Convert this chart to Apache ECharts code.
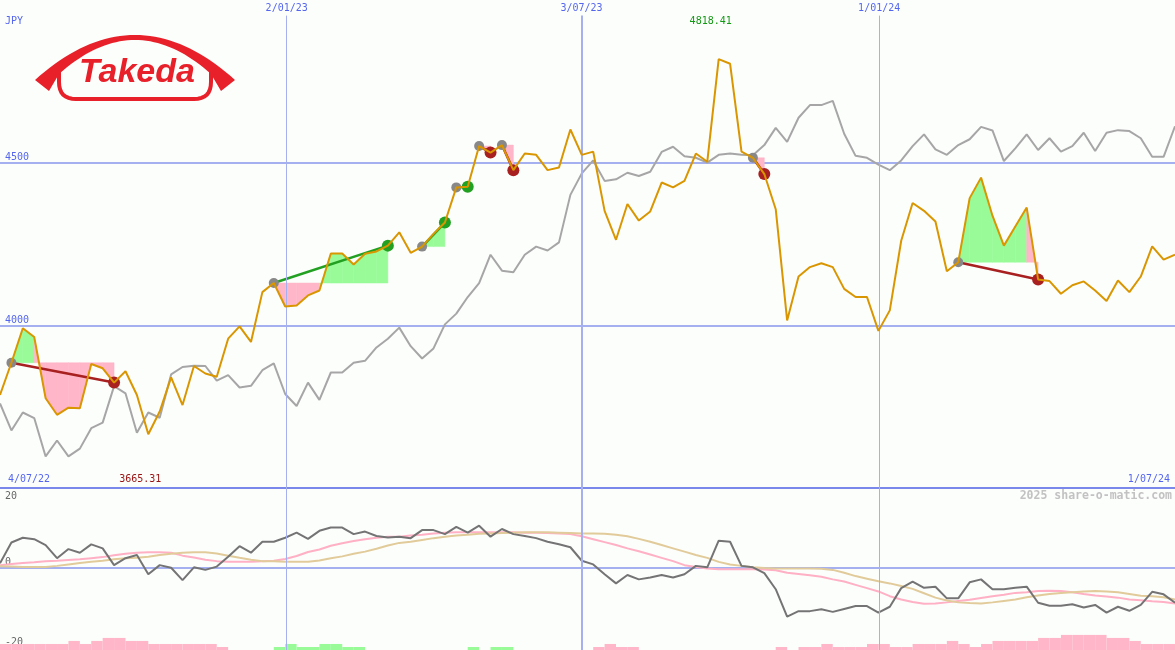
<!DOCTYPE html>
<html><head><meta charset="utf-8">
<script src="https://cdn.jsdelivr.net/npm/echarts@6/dist/echarts.min.js"></script>
<style>html,body{margin:0;padding:0;background:#fcfefc}#c{width:1175px;height:650px}</style>
</head><body><div id="c"></div>
<script>
// ---- data (weekly points, index 0 = 4/07/22, last = 1/07/24) ----
const price = [3786,3885,3991,3964,3776,3725,3747,3745,3881,3868,
 3824,3859,3786,3665.31,3735,3840,3755,3875,3852,3842,
 3959,3997,3949,4102,4130,4058,4061,4092,4107,4221,
 4221,4187,4220,4227,4245,4286,4223,4242,4281,4316,
 4424,4426,4551,4531,4554,4477,4528,4524,4477,4485,
 4602,4524,4534,4352,4263,4373,4322,4350,4439,4424,
 4444,4528,4503,4818.41,4804,4534,4515,4465,4357,4015,
 4150,4179,4191,4179,4112,4087,4087,3983,4046,4260,
 4376,4352,4319,4166,4194,4391,4454,4337,4245,4304,
 4362,4141,4136,4097,4123,4135,4107,4075,4138,4102,
 4150,4243,4202,4217];
const compare = [3760,3677,3732,3715,3597,3646,3597,3621,3684,3701,
 3813,3791,3670,3732,3716,3849,3872,3876,3875,3830,
 3847,3809,3814,3862,3883,3789,3752,3824,3771,3855,
 3855,3885,3891,3932,3959,3993,3936,3898,3929,4003,
 4036,4087,4130,4217,4168,4163,4217,4242,4230,4255,
 4401,4467,4507,4444,4449,4469,4459,4472,4533,4549,
 4520,4515,4500,4524,4528,4524,4523,4554,4607,4564,
 4638,4677,4677,4690,4589,4521,4515,4494,4477,4507,
 4551,4587,4541,4524,4554,4572,4610,4599,4505,4544,
 4587,4539,4575,4534,4551,4592,4536,4592,4600,4597,
 4575,4518,4518,4612];
const osc = [1.2,6.9,8.2,7.8,6.2,2.6,5.1,4.1,6.4,5.3,
 0.7,2.6,3.5,-1.8,0.7,0,-3.4,0.1,-0.6,0.3,
 3.0,5.9,4.1,7.1,7.1,8.2,9.6,7.9,10.1,11.0,
 11.0,9.2,9.9,8.7,8.3,8.5,8.1,10.3,10.3,9.2,
 11.2,9.6,11.5,8.5,10.6,9.2,8.7,8.1,7.1,6.4,
 5.6,1.9,0.9,-1.8,-4.3,-2.0,-3.2,-2.7,-2.0,-2.7,
 -1.8,0.5,0.1,7.4,7.1,0.5,0.1,-1.5,-5.9,-13.4,
 -11.9,-11.9,-11.4,-12.1,-11.3,-10.5,-10.5,-12.3,-10.7,-5.6,
 -3.8,-5.5,-5.2,-8.4,-8.4,-4.0,-3.2,-5.9,-5.9,-5.5,
 -5.2,-9.6,-10.4,-10.4,-10.0,-10.9,-10.2,-12.3,-10.7,-11.8,
 -10.2,-6.6,-7.3,-9.6];
const maFast = [0.7,1.0,1.3,1.5,1.8,1.9,2.1,2.3,2.6,2.9,
 3.4,3.8,4.1,4.2,4.2,4.1,3.3,2.8,2.2,1.8,
 1.6,1.6,1.6,1.8,1.9,2.4,3.2,4.3,5.0,6.0,
 6.7,7.3,7.8,8.2,8.5,8.5,8.8,9.0,9.4,9.6,
 9.7,9.7,9.7,9.7,9.7,9.7,9.6,9.6,9.5,9.4,
 9.2,8.6,7.8,7.0,6.2,5.3,4.5,3.6,2.7,1.8,
 0.7,0.2,-0.2,-0.4,-0.4,-0.4,-0.4,-0.5,-0.7,-1.4,
 -1.7,-2.1,-2.5,-3.2,-3.8,-4.7,-5.6,-6.5,-7.8,-8.7,
 -9.4,-9.9,-9.8,-9.5,-9.1,-8.8,-8.3,-7.8,-7.4,-6.9,
 -6.7,-6.4,-6.3,-6.4,-6.7,-7.2,-7.6,-7.9,-8.2,-8.7,
 -8.9,-9.2,-9.4,-9.8];
const maSlow = [0.4,0.3,0.2,0.2,0.2,0.5,0.9,1.3,1.6,1.9,
 2.3,2.6,2.7,3.0,3.5,3.8,4.1,4.2,4.2,3.9,
 3.3,2.7,2.2,1.8,1.8,1.6,1.6,1.6,2.0,2.6,
 3.1,3.8,4.4,5.2,6.1,6.8,7.1,7.6,8.1,8.5,
 8.8,9.0,9.3,9.4,9.5,9.6,9.7,9.7,9.7,9.6,
 9.5,9.4,9.4,9.3,9.0,8.6,7.9,7.1,6.2,5.3,
 4.4,3.5,2.7,1.6,0.9,0.5,0.1,-0.1,-0.2,-0.2,
 -0.2,-0.2,-0.3,-0.6,-1.4,-2.3,-3.0,-3.7,-4.3,-5.0,
 -5.8,-7.0,-8.2,-9.0,-9.5,-9.7,-9.8,-9.5,-9.1,-8.7,
 -8.1,-7.6,-7.2,-6.9,-6.7,-6.5,-6.4,-6.5,-6.7,-7.2,
 -7.7,-7.8,-8.1,-8.7];
const hist = [-2,-2,-2,-2,-2,-2,-3,-2,-3,-4,
 -4,-3,-3,-2,-2,-2,-2,-2,-2,-1,
 0,0,0,0,1,2,1,1,2,2,
 1,1,0,0,0,0,0,0,0,0,
 0,1,0,1,1,0,0,0,0,0,
 0,0,-1,-2,-1,-1,0,0,0,0,
 0,0,0,0,0,0,0,0,-1,0,
 -1,-1,-2,-1,-1,-1,-2,-2,-1,-1,
 -2,-2,-2,-3,-2,-1,-2,-3,-3,-3,
 -3,-4,-4,-5,-5,-5,-5,-4,-4,-3,
 -2,-2,-2,-2];
const signals = [[1,10],[24,34],[37,39],[40,41],[42,43],[44,45],[66,67],[84,91]];
const dateLines = [['2/01/23',25.13],['3/07/23',50.98],['1/01/24',77.07]];
const startDate = '4/07/22', endDate = '1/07/24', currency = 'JPY';
const priceTicks = [4000,4500];
const oscTicks = [-20,0,20];

// ---- styles ----
const MONO = '"DejaVu Sans Mono", monospace';
const BLUE_TXT = '#5566ee', GRIDC = '#a4b0f0', SEP = '#7a88ec';
const FILL_UP = '#98fb98', FILL_DN = '#ffb6c8';
const GREEN = '#22a022', RED = '#a82020', LOGO = '#e8202a';
const dateLineWidths = [1, 2, 1];
const N = price.length;
const idx = a => a.map((v,i)=>[i,v]);

const chart = echarts.init(document.getElementById('c'));

function fillItem(params, api){
  const s = signals[params.dataIndex][0], e = signals[params.dataIndex][1];
  const level = price[s];
  const children = [];
  for (let i=s;i<e;i++){
    const up = price[i+1] >= level;
    const pts = [api.coord([i,price[i]]), api.coord([i+1,price[i+1]]), api.coord([i+1,level]), api.coord([i,level])];
    const c = up ? FILL_UP : FILL_DN;
    children.push({type:'polygon', shape:{points:pts}, style:{fill:c, stroke:c, lineWidth:0.5}});
  }
  return {type:'group', children};
}
function sigLineItem(params, api){
  const s = signals[params.dataIndex][0], e = signals[params.dataIndex][1];
  const p0 = api.coord([s,price[s]]), p1 = api.coord([e,price[e]]);
  return {type:'line', shape:{x1:p0[0],y1:p0[1],x2:p1[0],y2:p1[1]},
    style:{stroke: price[e]>price[s]?GREEN:RED, lineWidth:2.5}};
}
function histItem(params, api){
  const i = api.value(0), h = api.value(2);
  if (!h) return null;
  const p0 = api.coord([i,0]), p1 = api.coord([i+1,Math.abs(h)]);
  return {type:'rect', shape:{x:p0[0], y:p1[1], width:p1[0]-p0[0], height:p0[1]-p1[1]},
    style:{fill: h>0?FILL_UP:FILL_DN}};
}

const labelRich = {
  z:{color:'#666', fontFamily:MONO, fontSize:10, padding:[0,0,11,0]},
  n:{color:'#666', fontFamily:MONO, fontSize:10, padding:[3,0,0,0]}
};

const option = {
  backgroundColor:'#fcfefc',
  animation:false,
  grid:[
    {left:0,right:0,top:-2,height:490},
    {left:0,right:0,top:494.7,height:146},
    {left:0,right:0,top:487,height:163}
  ],
  xAxis:[0,1,2].map(g=>({type:'value',gridIndex:g,min:0,max:N-1,show:false})),
  yAxis:[
    {type:'value',gridIndex:0,min:3500,max:5000,interval:500,
     axisLine:{show:false},axisTick:{show:false},
     axisLabel:{inside:true,margin:5,verticalAlign:'bottom',color:BLUE_TXT,fontFamily:MONO,fontSize:10,
       formatter:v=>priceTicks.includes(v)?String(v):''},
     splitLine:{show:true,lineStyle:{width:2,color:[SEP,GRIDC,GRIDC,'rgba(0,0,0,0)']}}},
    {type:'value',gridIndex:1,min:-20,max:20,interval:20,
     axisLine:{show:false},axisTick:{show:false},
     axisLabel:{inside:true,margin:5,verticalAlign:'middle',
       formatter:v=>oscTicks.includes(v)?(v===0?'{z|0}':'{n|'+v+'}'):'', rich:labelRich},
     splitLine:{show:true,lineStyle:{width:2,color:['rgba(0,0,0,0)',GRIDC,'rgba(0,0,0,0)']}}},
    {type:'value',gridIndex:2,min:0,max:54,show:false}
  ],
  series:[
    {type:'custom',name:'fills',xAxisIndex:0,yAxisIndex:0,z:1,silent:true,
     data:signals.map(([s,e])=>[s,price[s],e]),encode:{x:0,y:1},renderItem:fillItem},
    {type:'line',name:'compare',xAxisIndex:0,yAxisIndex:0,z:2,data:idx(compare),
     symbol:'none',lineStyle:{color:'#a6a6a6',width:2},silent:true,
     markLine:{silent:true,symbol:['none','none'],
       label:{show:true,position:'start',distance:2,formatter:p=>p.name,color:BLUE_TXT,fontFamily:MONO,fontSize:10},
       data:dateLines.map(([name,x],k)=>[
         {name,coord:[x,4952],lineStyle:{color:GRIDC,width:dateLineWidths[k],type:'solid'}},
         {coord:[x,3500]}])}},
    {type:'custom',name:'sigLines',xAxisIndex:0,yAxisIndex:0,z:3,silent:true,
     data:signals.map(([s,e])=>[s,price[s],e]),encode:{x:0,y:1},renderItem:sigLineItem},
    {type:'scatter',name:'startDots',xAxisIndex:0,yAxisIndex:0,z:4,symbolSize:10,silent:true,
     data:signals.map(([s])=>[s,price[s]]),itemStyle:{color:'#888888',opacity:1}},
    {type:'scatter',name:'endDots',xAxisIndex:0,yAxisIndex:0,z:4,symbolSize:12,silent:true,
     data:signals.map(([s,e])=>({value:[e,price[e]],itemStyle:{color:price[e]>price[s]?GREEN:RED,opacity:1}}))},
    {type:'line',name:'price',xAxisIndex:0,yAxisIndex:0,z:5,data:idx(price),
     symbol:'none',lineStyle:{color:'#da9600',width:2},silent:true},
    {type:'line',name:'dates2',xAxisIndex:2,yAxisIndex:2,z:0,data:[],
     markLine:{silent:true,symbol:['none','none'],label:{show:false},
       data:dateLines.map(([name,x],k)=>({xAxis:x,lineStyle:{color:GRIDC,width:dateLineWidths[k],type:'solid'}}))}},
    {type:'custom',name:'hist',xAxisIndex:2,yAxisIndex:2,z:1,silent:true,
     data:hist.map((h,i)=>[i,Math.abs(h),h]),encode:{x:0,y:1},renderItem:histItem},
    {type:'line',name:'maFast',xAxisIndex:1,yAxisIndex:1,z:2,data:idx(maFast),symbol:'none',
     lineStyle:{color:'#ffb0c4',width:2},silent:true},
    {type:'line',name:'maSlow',xAxisIndex:1,yAxisIndex:1,z:2,data:idx(maSlow),symbol:'none',
     lineStyle:{color:'#e2cb9a',width:2},silent:true},
    {type:'line',name:'osc',xAxisIndex:1,yAxisIndex:1,z:3,data:idx(osc),symbol:'none',
     lineStyle:{color:'#747474',width:2},silent:true}
  ]
};
chart.setOption(option);

function txt(x,y,text,fill,align,font){
  return {type:'text',x,y,silent:true,z:10,
    style:{text,fill,font:font||('10px '+MONO),textAlign:align,textVerticalAlign:'middle',align:align,verticalAlign:'middle'}};
}
// quadratic curve sampler for the logo outline
function quad(p0,c,p1,n){
  const out=[];
  for(let k=0;k<=n;k++){const t=k/n,u=1-t;
    out.push([u*u*p0[0]+2*u*t*c[0]+t*t*p1[0], u*u*p0[1]+2*u*t*c[1]+t*t*p1[1]]);}
  return out;
}
const archPts = [].concat(
  quad([35,80],[135,-10],[235,80],40),
  [[221,91]],
  quad([211,74],[135,6],[59,74],40),
  [[49,91]]);
const pillPts = [].concat(
  [[59,68]],
  quad([59,82],[59,99],[76,99],8),
  quad([194,99],[211,99],[211,82],8),
  [[211,68]]);

const maxV = Math.max(...price), minV = Math.min(...price);
const iMax = price.indexOf(maxV), iMin = price.indexOf(minV);
const pMax = chart.convertToPixel({gridIndex:0},[iMax,maxV]);
const pMin = chart.convertToPixel({gridIndex:0},[iMin,minV]);

chart.setOption({graphic:[
  {type:'polygon',silent:true,z:10,shape:{points:archPts},style:{fill:LOGO}},
  {type:'polyline',silent:true,z:10,shape:{points:pillPts},style:{stroke:LOGO,lineWidth:4,fill:null}},
  txt(137,73,'Takeda',LOGO,'center','italic bold 34px "Liberation Sans"'),
  txt(5,21.7,currency,BLUE_TXT,'left'),
  txt(8,479,startDate,BLUE_TXT,'left'),
  txt(1170,479,endDate,BLUE_TXT,'right'),
  txt(pMin[0]-8,479,minV.toFixed(2),'#991111','center'),
  txt(pMax[0]-8,21,maxV.toFixed(2),'#119911','center'),
  txt(1172,496.5,'2025 share-o-matic.com','#c2c2c2','right','bold 11.5px '+MONO)
]});
</script></body></html>
